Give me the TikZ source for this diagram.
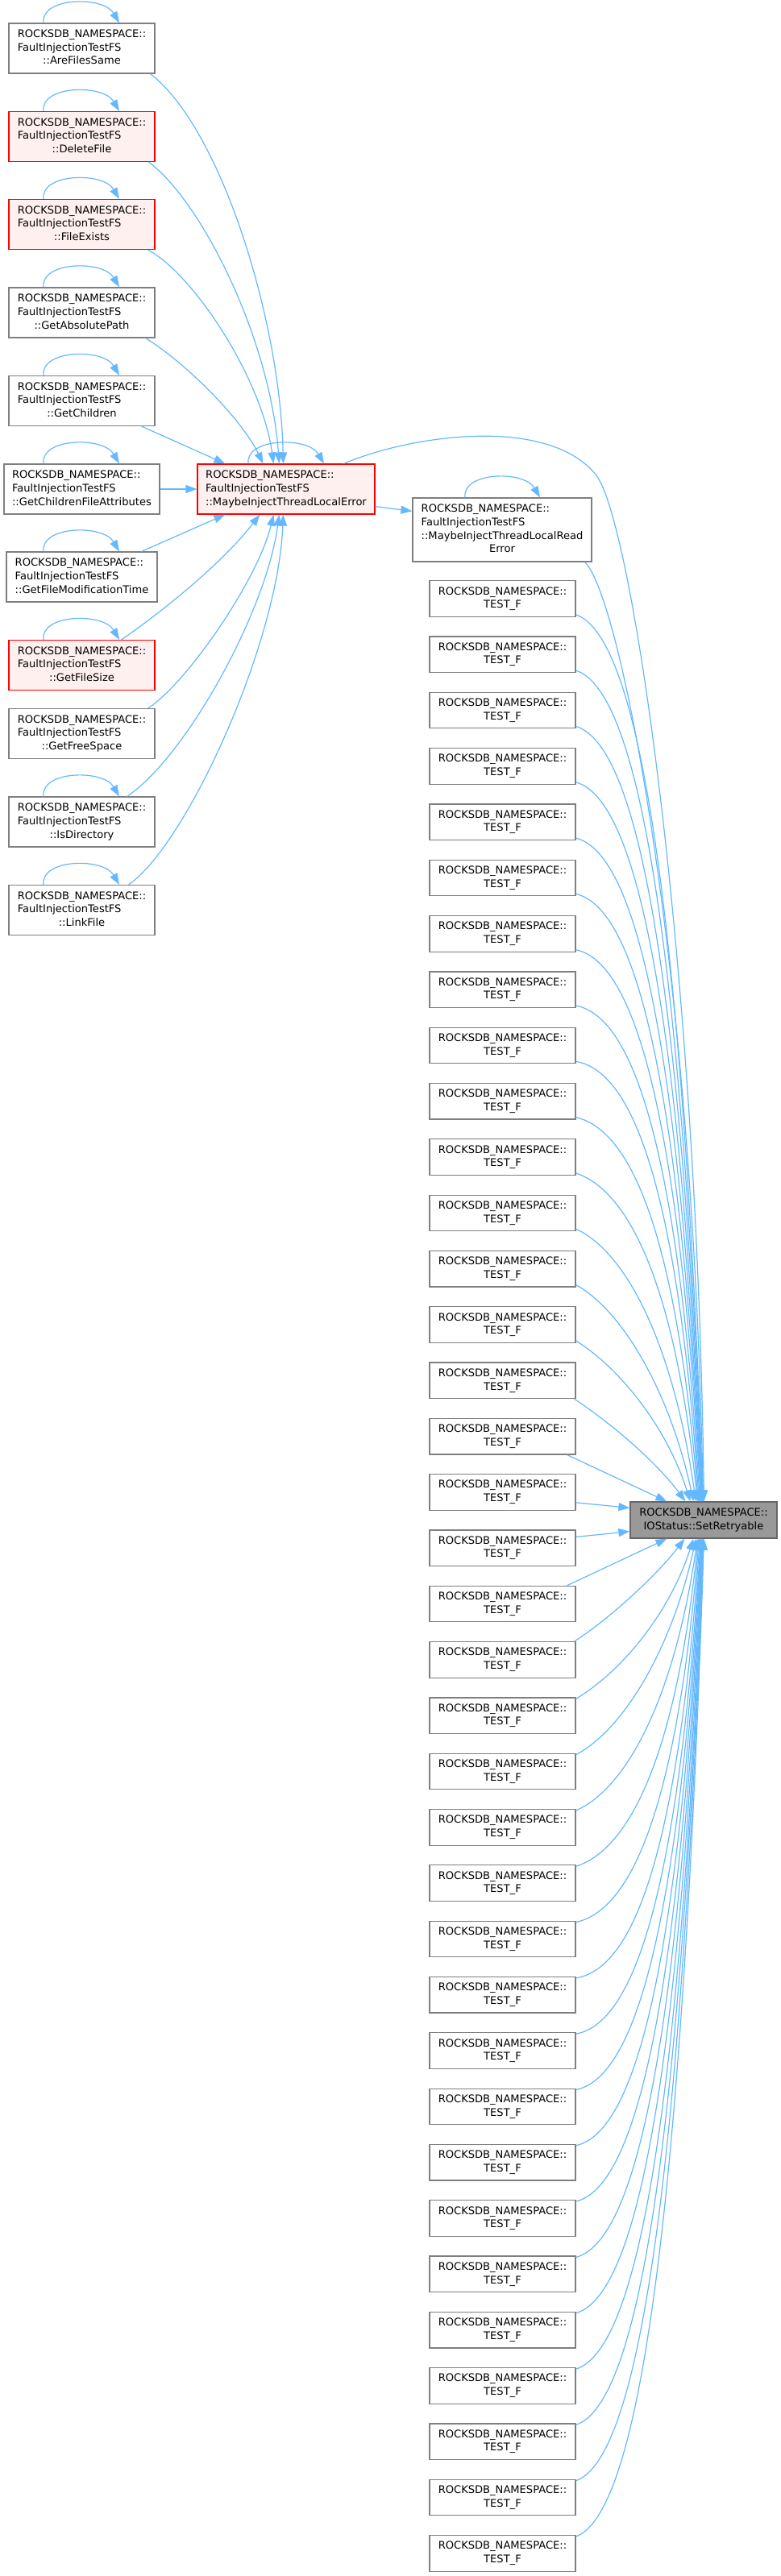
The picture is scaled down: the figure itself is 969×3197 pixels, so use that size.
\documentclass[tikz,border=0pt]{standalone}
\usepackage{fontspec}
\setmainfont{DejaVu Sans}
\usetikzlibrary{arrows.meta,calc}
\definecolor{edgeblue}{HTML}{63B8FF}
\definecolor{nodegray}{HTML}{7F7F7F}
\definecolor{pinkfill}{HTML}{FFF0F0}
\definecolor{tgtfill}{HTML}{999999}
\definecolor{tgtdraw}{HTML}{666666}
\newcommand{\fitnode}[1]{\begin{tabular}{@{}l@{}}ROCKSDB\_NAMESPACE::\\FaultInjectionTestFS\\\multicolumn{1}{@{}c@{}}{#1}\end{tabular}}
\newcommand{\tstf}{\begin{tabular}{@{}c@{}}ROCKSDB\_NAMESPACE::\\TEST\_F\end{tabular}}
\newcommand{\selfloopx}[3]{\draw[arr] ($(#1)+(#2,0)$) .. controls ($(#1)+({#2-4},-32)$) and ($(#1)+({#3-20},-34)$) .. ($(#1)+(#3,0)$);}
\begin{document}
\begin{tikzpicture}[x=0.75pt,y=-0.75pt,
  nbox/.style={draw=nodegray,fill=white,line width=0.9pt,inner sep=0pt,font=\fontsize{9.8pt}{12.5pt}\selectfont},
  redc/.style={draw=red,fill=pinkfill},
  lnode/.style={nbox,minimum width=135.75pt,minimum height=46.5pt},
  tnode/.style={nbox,minimum width=135.75pt,minimum height=33.4pt},
  arr/.style={draw=edgeblue,line width=0.9pt,-{Triangle[length=10.5pt,width=7.5pt]}},
]
\useasboundingbox (0,0) rectangle (969,3197);

% left column
\node[lnode] (afs) at (101.5,60) {\fitnode{::AreFilesSame}};
\node[lnode,redc] (del) at (101.5,169.5) {\fitnode{::DeleteFile}};
\node[lnode,redc] (fex) at (101.5,278.5) {\fitnode{::FileExists}};
\node[lnode] (gap) at (101.5,388) {\fitnode{::GetAbsolutePath}};
\node[lnode] (gch) at (101.5,497.5) {\fitnode{::GetChildren}};
\node[lnode,minimum width=144.75pt] (gcfa) at (101.5,607) {\fitnode{::GetChildrenFileAttributes}};
\node[lnode,minimum width=140.25pt] (gfmt) at (101.5,716) {\fitnode{::GetFileModificationTime}};
\node[lnode,redc] (gfs) at (101.5,825.5) {\fitnode{::GetFileSize}};
\node[lnode] (gfsp) at (101.5,910.5) {\fitnode{::GetFreeSpace}};
\node[lnode] (isd) at (101.5,1020) {\fitnode{::IsDirectory}};
\node[lnode] (lnk) at (101.5,1129.5) {\fitnode{::LinkFile}};

% middle
\node[nbox,redc,minimum width=165pt,minimum height=46.5pt] (mitle) at (355,607)
  {\begin{tabular}{@{}l@{}}ROCKSDB\_NAMESPACE::\\FaultInjectionTestFS\\::MaybeInjectThreadLocalError\end{tabular}};
\node[nbox,minimum width=166.5pt,minimum height=59.25pt] (mitlre) at (623,657.5)
  {\begin{tabular}{@{}l@{}}ROCKSDB\_NAMESPACE::\\FaultInjectionTestFS\\::MaybeInjectThreadLocalRead\\\multicolumn{1}{@{}c@{}}{Error}\end{tabular}};

% TEST_F column
\foreach \k in {0,...,35}{
  \node[tnode] (t\k) at (623.5,{743+69.31*\k}) {\tstf};
}

% target
\node[nbox,draw=tgtdraw,fill=tgtfill,minimum width=136.5pt,minimum height=33.75pt] (sr) at (873,1886.5)
  {\begin{tabular}{@{}c@{}}ROCKSDB\_NAMESPACE::\\IOStatus::SetRetryable\end{tabular}};

% self loops
\selfloopx{afs.north}{-47.5}{46.5}
\selfloopx{del.north}{-47.5}{46.5}
\selfloopx{fex.north}{-47.5}{46.5}
\selfloopx{gap.north}{-47.5}{46.5}
\selfloopx{gch.north}{-47.5}{46.5}
\selfloopx{gcfa.north}{-47.5}{46.5}
\selfloopx{gfmt.north}{-47.5}{46.5}
\selfloopx{gfs.north}{-47.5}{46.5}
\selfloopx{isd.north}{-47.5}{46.5}
\selfloopx{lnk.north}{-47.5}{46.5}
\selfloopx{mitle.north}{-47}{47}
\selfloopx{mitlre.north}{-46}{47}

% left column -> mitle
\draw[arr] ($(afs.south east)+(-6,0)$) .. controls (275,160) and (348,400) .. ($(mitle.north west)+(107,0)$);
\draw[arr] ($(del.south east)+(-8,0)$) .. controls (250,250) and (335,420) .. ($(mitle.north west)+(102,0)$);
\draw[arr] ($(fex.south east)+(-9,0)$) .. controls (240,340) and (325,470) .. ($(mitle.north west)+(95,0)$);
\draw[arr] ($(gap.south east)+(-12,0)$) .. controls (230,450) and (300,520) .. ($(mitle.north west)+(82,0)$);
\draw[arr] ($(gch.south east)+(-17,0)$) -- ($(mitle.north west)+(35,0)$);
\draw[arr] (gcfa.east) -- (mitle.west);
\draw[arr] ($(gfmt.north east)+(-20,0)$) -- ($(mitle.south west)+(35,0)$);
\draw[arr] ($(gfs.north east)+(-42,0)$) .. controls (200,760) and (275,700) .. ($(mitle.south west)+(78,0)$);
\draw[arr] ($(gfsp.north east)+(-9,0)$) .. controls (230,850) and (320,720) .. ($(mitle.south west)+(95,0)$);
\draw[arr] ($(isd.north east)+(-35,0)$) .. controls (230,940) and (330,760) .. ($(mitle.south west)+(102,0)$);
\draw[arr] ($(lnk.north east)+(-33,0)$) .. controls (230,1050) and (345,800) .. ($(mitle.south west)+(107,0)$);

% mitle -> mitlre
\draw[arr] ($(mitle.south east)+(0,-10)$) -- ($(mitlre.north west)+(0,17)$);

% long edges to target
\draw[arr] ($(mitle.north west)+(182,0)$) .. controls (510,540) and (680,515) .. (740,590)
  .. controls (785,650) and (865,1200) .. ($(sr.north west)+(92,0)$);
\draw[arr] ($(mitlre.south east)+(-9,0)$) .. controls (770,740) and (860,1200) .. ($(sr.north west)+(91,0)$);

% upper TEST_F -> target
\foreach \k/\tx/\bb/\dd in {0/873/0.02/0.78,1/872.5/0.02/0.78,2/872/0.02/0.78,3/871.5/0.02/0.78,
  4/871/0.02/0.78,5/870.5/0.02/0.78,6/870/0.02/0.78,7/869/0.02/0.78,8/868/0.02/0.78,
  9/867/0.03/0.75,10/866/0.05/0.7,11/864/0.08/0.6,12/861/0.12/0.5,13/857/0.18/0.45}{
  \pgfmathsetmacro\sy{721+69.31*\k+44.5-3}
  \pgfmathsetmacro\hh{1864-\sy}
  \pgfmathsetmacro\dx{\tx-714}
  \pgfmathsetmacro\ax{714+0.4*\dx}
  \pgfmathsetmacro\ay{\sy+\bb*\hh}
  \pgfmathsetmacro\bx{\tx-0.2*\dx}
  \pgfmathsetmacro\by{1864-\dd*\hh}
  \draw[arr] ($(t\k.south east)+(0,-3)$) .. controls (\ax,\ay) and (\bx,\by) .. ($(sr.north west)+({\tx-782},0)$);
}
\draw[arr] ($(t14.south east)+(-2,0)$) .. controls (758,1766) and (815,1815) .. ($(sr.north west)+(69,0)$);
\draw[arr] ($(t15.south east)+(-11,0)$) -- ($(sr.north west)+(46,0)$);
\draw[arr] ($(t16.south east)+(0,-10)$) -- ($(sr.north west)+(0,8)$);
\draw[arr] ($(t17.north east)+(0,9)$) -- ($(sr.south west)+(0,-9)$);
\draw[arr] ($(t18.north east)+(-11,0)$) -- ($(sr.south west)+(46,0)$);
\draw[arr] ($(t19.north east)+(-2,0)$) .. controls (755,2010) and (815,1955) .. ($(sr.south west)+(68,0)$);

% lower TEST_F -> target
\foreach \k/\tx/\bb/\dd in {20/861/0.18/0.45,21/864/0.12/0.5,22/866/0.08/0.6,23/867/0.05/0.7,
  24/868/0.03/0.75,25/869/0.02/0.78,26/870/0.02/0.78,27/870.5/0.02/0.78,28/871/0.02/0.78,
  29/871.5/0.02/0.78,30/872/0.02/0.78,31/872.5/0.02/0.78,32/873/0.02/0.78,33/873/0.02/0.78,
  34/873.5/0.02/0.78,35/874/0.02/0.78}{
  \pgfmathsetmacro\sy{721+69.31*\k+2}
  \pgfmathsetmacro\hh{\sy-1909}
  \pgfmathsetmacro\dx{\tx-715}
  \pgfmathsetmacro\ax{715+0.4*\dx}
  \pgfmathsetmacro\ay{\sy-\bb*\hh}
  \pgfmathsetmacro\bx{\tx-0.2*\dx}
  \pgfmathsetmacro\by{1909+\dd*\hh}
  \draw[arr] ($(t\k.north east)+(0,2)$) .. controls (\ax,\ay) and (\bx,\by) .. ($(sr.south west)+({\tx-782},0)$);
}
\end{tikzpicture}
\end{document}
